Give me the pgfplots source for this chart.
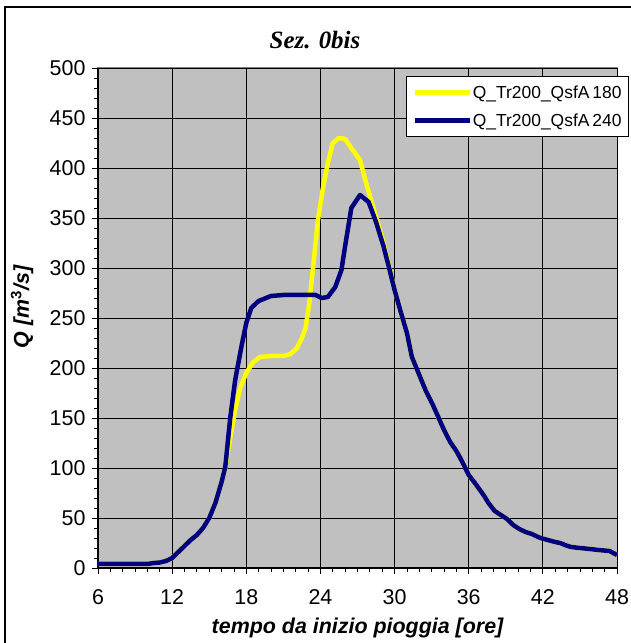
\documentclass[border=0pt]{standalone}
\usepackage{fontspec}
\setmainfont{Liberation Sans}
\newfontfamily\titlefont{Liberation Serif}
\usepackage{pgfplots}
\pgfplotsset{compat=1.18}
\definecolor{plotgray}{HTML}{C0C0C0}
\definecolor{qyellow}{HTML}{FFFF00}
\definecolor{qnavy}{HTML}{000080}

% Q_Tr200_QsfA 240
\pgfplotstableread{
t Q
6 4
7 4
8 4
9 4
10 4
10.5 5
11 5.5
11.5 7
12 10
12.5 16
13 22
13.5 28
14 33
14.5 40
15 50
15.5 65
16 86
16.3 101
16.7 150
17.1 188
17.6 221
18 245
18.4 260
19 267
20 272
21 273
22 273
23 273
23.6 273
24.1 270
24.6 271
25.2 281
25.7 298
26 322
26.5 360
27.2 373
27.9 366
28.5 346
29.1 322
29.6 298
30 278
30.5 256
31 235
31.4 211
32 193
32.5 178
33.1 163
33.5 152
34 138
34.5 126
35 117
35.4 108
36 93
36.5 85
37.2 73
37.6 65
38.1 57
38.6 53
39.1 49
39.6 43
40.1 39
40.6 36
41.1 34
41.8 30
42.4 28
43 26
43.4 25
44 22
44.3 21
45 20
45.8 19
46.5 18
47.4 17
48 13
}\qa

% Q_Tr200_QsfA 180
\pgfplotstableread{
t Q
6 4
7 4
8 4
9 4
10 4
10.5 5
11 5.5
11.5 7
12 10
12.5 16
13 22
13.5 28
14 33
14.5 40
15 50
15.5 65
16 86
16.3 100
16.7 130
17.1 158
17.5 180
18 195
18.5 205
19.1 211
20 212
21 212
21.6 214
22.1 220
22.5 230
22.8 240
23.1 265
23.4 300
23.8 348
24.2 380
24.6 405
25 425
25.5 430
26 429
26.5 420
27.2 408
27.7 385
28.5 351
29 330
29.6 300
30 278
30.5 256
31 235
31.4 211
32 193
32.5 178
33.1 163
33.5 152
34 138
34.5 126
35 117
35.4 108
36 93
36.5 85
37.2 73
37.6 65
38.1 57
38.6 53
39.1 49
39.6 43
40.1 39
40.6 36
41.1 34
41.8 30
42.4 28
43 26
43.4 25
44 22
44.3 21
45 20
45.8 19
46.5 18
47.4 17
48 13
}\qb

\begin{document}
\begin{tikzpicture}[x=1bp,y=1bp]
\useasboundingbox (-98,-75) rectangle (533,568);
\begin{axis}[
  at={(0,0)}, anchor=south west,
  scale only axis, width=519bp, height=500bp,
  xmin=6, xmax=48, ymin=0, ymax=500,
  xtick={6,12,...,48}, ytick={0,50,...,500},
  minor x tick num=5, minor y tick num=4,
  axis lines=left, axis line style={-, black, line width=1bp},
  tick align=outside, tick style={black, line width=0.8bp},
  major tick length=6bp, minor tick length=4bp,
  grid=major, major grid style={black, line width=0.8bp},
  axis background/.style={fill=plotgray, draw=gray, line width=1bp},
  /pgf/number format/assume math mode=true,
  ticklabel style={font=\fontsize{21.5}{24}\selectfont},
  xticklabel style={yshift=-12bp},
  yticklabel style={xshift=-3bp},
  xlabel={\bfseries\itshape tempo da inizio pioggia [ore]},
  ylabel={\bfseries\itshape Q [m$^{\mathbf{3}}$/s]},
  label style={font=\fontsize{21.5}{24}\selectfont},
  xlabel style={at={(axis description cs:0.5,-0.12)}, anchor=center},
  ylabel style={at={(axis description cs:-0.146,0.522)}, anchor=center, rotate=0},
  legend style={at={(0.5934,0.984)}, anchor=north west, draw=black, fill=white,
    line width=0.8bp, font=\fontsize{17.5}{20}\selectfont,
    inner xsep=6bp, inner ysep=8bp, row sep=12bp,
    nodes={inner sep=1bp}},
  legend cell align=left,
  legend image code/.code={\draw[#1, line width=4.5bp] (0bp,0bp) -- (55bp,0bp);},
  clip=false,
]
\addplot[qyellow, line width=4.5bp, line join=round] table[x=t,y=Q] {\qb};
\addlegendentry{Q\_Tr200\_QsfA\,180}
\addplot[qnavy, line width=4.5bp, line join=round] table[x=t,y=Q] {\qa};
\addlegendentry{Q\_Tr200\_QsfA\,240}
\end{axis}
\node[font=\titlefont\bfseries\itshape\fontsize{25}{29}\selectfont] at (217,528) {Sez. 0bis};
\draw[black, line width=1.5bp] (-93,-100) -- (-93,561) -- (600,561);
\end{tikzpicture}
\end{document}
